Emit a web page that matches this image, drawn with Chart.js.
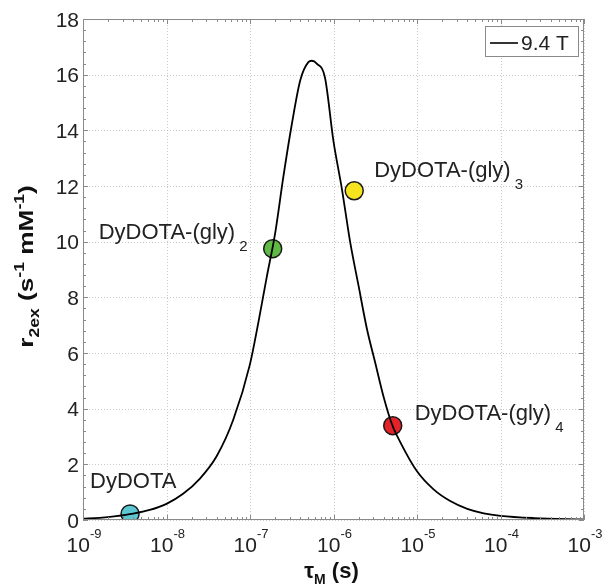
<!DOCTYPE html>
<html>
<head>
<meta charset="utf-8">
<script src="https://cdn.jsdelivr.net/npm/chart.js@4.4.1/dist/chart.umd.min.js"></script>
<style>
  html, body { margin: 0; padding: 0; background: #fff; }
  #wrap { width: 606px; height: 584px; }
</style>
</head>
<body>
<div id="wrap"><canvas id="chart" width="606" height="584"></canvas></div>
<script>
// curve (tau_M in s, r2ex in s^-1 mM^-1)
const tauCurve = [1e-9, 1.58e-9, 2.5e-9, 4e-9, 6.3e-9, 1e-8, 1.58e-8, 2.5e-8, 4e-8, 6.3e-8,
  1e-7, 1.26e-7, 1.58e-7, 2e-7, 2.5e-7, 3.16e-7, 4e-7, 5e-7, 5.5e-7, 6.3e-7,
  7.9e-7, 1e-6, 1.26e-6, 1.58e-6, 2e-6, 2.5e-6, 3.16e-6, 4e-6, 5e-6, 6.3e-6,
  1e-5, 1.58e-5, 2.5e-5, 4e-5, 6.3e-5, 1e-4, 2.5e-4, 1e-3];
const r2Curve = [0.05, 0.08, 0.14, 0.23, 0.36, 0.58, 0.94, 1.48, 2.3, 3.6,
  5.6, 7.1, 8.7, 10.3, 12.3, 14.2, 15.8, 16.45, 16.5, 16.4,
  15.9, 13.6, 11.9, 10.0, 8.4, 6.9, 5.65, 4.4, 3.45, 2.8,
  1.75, 1.1, 0.68, 0.4, 0.24, 0.15, 0.07, 0.02];
const seriesLabel = '9.4 T';

// the four complexes
const complexNames = ['DyDOTA', 'DyDOTA-(gly)', 'DyDOTA-(gly)', 'DyDOTA-(gly)'];
const complexSubs = ['', '2', '3', '4'];
const complexTau = [3.66e-9, 1.87e-7, 1.77e-6, 5.12e-6];
const complexR2 = [0.22, 9.75, 11.83, 3.39];
const complexColors = ['#5cc6d3', '#5fb944', '#f6e51e', '#e3222a'];

const xTickExps = [-9, -8, -7, -6, -5, -4, -3];
const yTicks = [0, 2, 4, 6, 8, 10, 12, 14, 16, 18];

// label placement relative to each marker (pixels)
const labelOffsets = [[-40, -26], [-174, -10], [20, -14], [22, -6]];

const FONT = "'Liberation Sans', Arial, Helvetica, sans-serif";

function rich(ctx, x, y, parts, align) {
  // parts: [text, size, bold, dy]
  let total = 0;
  parts.forEach(p => {
    ctx.font = (p[2] ? 'bold ' : '') + p[1] + 'px ' + FONT;
    total += ctx.measureText(p[0]).width;
  });
  let cx = align === 'center' ? x - total / 2 : (align === 'right' ? x - total : x);
  ctx.textAlign = 'left';
  ctx.textBaseline = 'alphabetic';
  parts.forEach(p => {
    ctx.font = (p[2] ? 'bold ' : '') + p[1] + 'px ' + FONT;
    ctx.fillText(p[0], cx, y + (p[3] || 0));
    cx += ctx.measureText(p[0]).width;
  });
}

const gridPlugin = {
  id: 'gridPlugin',
  beforeDatasetsDraw(chart) {
    const { ctx, chartArea: a, scales: { x, y } } = chart;
    ctx.save();
    ctx.strokeStyle = '#c9c9c9';
    ctx.lineWidth = 1;
    ctx.setLineDash([1, 2]);
    xTickExps.forEach(e => {
      const px = Math.round(x.getPixelForValue(Math.pow(10, e))) + 0.5;
      ctx.beginPath(); ctx.moveTo(px, a.top); ctx.lineTo(px, a.bottom); ctx.stroke();
    });
    yTicks.forEach(v => {
      const py = Math.round(y.getPixelForValue(v)) + 0.5;
      ctx.beginPath(); ctx.moveTo(a.left, py); ctx.lineTo(a.right, py); ctx.stroke();
    });
    ctx.restore();
  },
  afterDraw(chart) {
    const { ctx, chartArea: a, scales: { x, y } } = chart;
    ctx.save();
    // axes box
    ctx.strokeStyle = '#8a8a8a';
    ctx.lineWidth = 1;
    ctx.strokeRect(a.left + 0.5, a.top + 0.5, a.right - a.left - 1, a.bottom - a.top - 1);

    // ticks on all four sides
    ctx.beginPath();
    const lastExp = xTickExps[xTickExps.length - 1];
    for (let e = xTickExps[0]; e <= lastExp; e++) {
      for (let k = 1; k <= 9; k++) {
        const v = k * Math.pow(10, e);
        if (v > Math.pow(10, lastExp)) break;
        const px = Math.round(x.getPixelForValue(v)) + 0.5;
        const len = k === 1 ? 5 : 3;
        ctx.moveTo(px, a.bottom); ctx.lineTo(px, a.bottom - len);
        ctx.moveTo(px, a.top); ctx.lineTo(px, a.top + len);
      }
    }
    for (let i = 0; i <= 45; i++) {
      const py = Math.round(y.getPixelForValue(i * 0.4)) + 0.5;
      const len = i % 5 === 0 ? 5 : 3;
      ctx.moveTo(a.left, py); ctx.lineTo(a.left + len, py);
      ctx.moveTo(a.right, py); ctx.lineTo(a.right - len, py);
    }
    ctx.stroke();

    ctx.fillStyle = '#222';
    // y tick labels
    ctx.font = '21px ' + FONT;
    ctx.textAlign = 'right';
    ctx.textBaseline = 'middle';
    yTicks.forEach(v => ctx.fillText(String(v), a.left - 4, y.getPixelForValue(v) + 2));

    // x tick labels 10^n
    xTickExps.forEach(e => {
      const px = x.getPixelForValue(Math.pow(10, e));
      rich(ctx, px + 1, a.bottom + 32, [['10', 21, false, 0], [String(e), 13, false, -14]], 'center');
    });

    // axis titles
    ctx.fillStyle = '#111';
    rich(ctx, (a.left + a.right) / 2 - 2, a.bottom + 58,
      [['\u03C4', 22, true, 0], ['M', 14, true, 6], [' (s)', 22, true, 0]], 'center');
    ctx.save();
    ctx.translate(33, (a.top + a.bottom) / 2 - 3);
    ctx.rotate(-Math.PI / 2);
    ctx.scale(1.25, 1);
    rich(ctx, 0, 0, [['r', 21, true, 0], ['2ex', 14, true, 6], [' (s', 21, true, 0], ['-1', 14, true, -9],
      [' mM', 21, true, 0], ['-1', 14, true, -9], [')', 21, true, 0]], 'center');
    ctx.restore();

    // point labels
    ctx.fillStyle = '#222';
    complexNames.forEach((name, i) => {
      const px = x.getPixelForValue(complexTau[i]);
      const py = y.getPixelForValue(complexR2[i]);
      const parts = [[name, 22, false, 0]];
      if (complexSubs[i]) parts.push([' ' + complexSubs[i], 15, false, 12]);
      rich(ctx, px + labelOffsets[i][0], py + labelOffsets[i][1], parts, 'left');
    });

    // legend box
    const bw = 94, bh = 31;
    const bx = a.right - 5 - bw, by = a.top + 7;
    ctx.fillStyle = '#fff';
    ctx.fillRect(bx, by, bw, bh);
    ctx.strokeStyle = '#8a8a8a';
    ctx.strokeRect(bx + 0.5, by + 0.5, bw - 1, bh - 1);
    ctx.strokeStyle = '#000';
    ctx.lineWidth = 1.6;
    ctx.beginPath(); ctx.moveTo(bx + 5, by + 17); ctx.lineTo(bx + 33, by + 17); ctx.stroke();
    ctx.fillStyle = '#222';
    rich(ctx, bx + 36, by + 24, [[seriesLabel, 21, false, 0]], 'left');
    ctx.restore();
  }
};

new Chart(document.getElementById('chart'), {
  type: 'line',
  data: {
    datasets: [{
      label: seriesLabel,
      data: tauCurve.map((t, i) => ({ x: t, y: r2Curve[i] })),
      borderColor: '#000',
      borderWidth: 1.8,
      pointRadius: 0,
      cubicInterpolationMode: 'monotone',
      fill: false
    }, {
      label: 'complexes',
      data: complexTau.map((t, i) => ({ x: t, y: complexR2[i] })),
      showLine: false,
      pointRadius: 9,
      pointBackgroundColor: complexColors,
      pointBorderColor: '#1a1a1a',
      pointBorderWidth: 1.5
    }]
  },
  options: {
    responsive: false,
    animation: false,
    layout: { padding: { left: 83, top: 19, right: 22, bottom: 64 } },
    plugins: { legend: { display: false }, tooltip: { enabled: false } },
    scales: {
      x: {
        type: 'logarithmic', min: 1e-9, max: 1e-3,
        ticks: { display: false },
        grid: { display: false, drawTicks: false },
        border: { display: false }
      },
      y: {
        type: 'linear', min: 0, max: 18,
        ticks: { display: false },
        grid: { display: false, drawTicks: false },
        border: { display: false }
      }
    }
  },
  plugins: [gridPlugin]
});
</script>
</body>
</html>
